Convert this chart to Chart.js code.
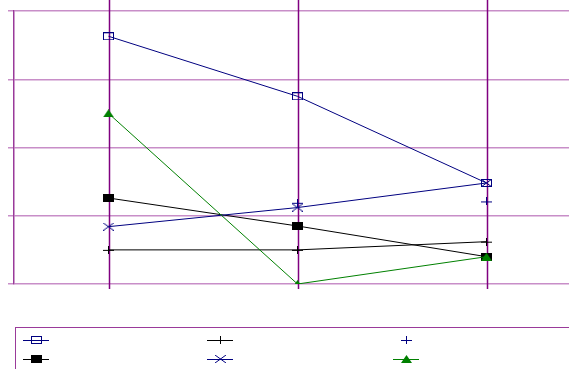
<!DOCTYPE html>
<html>
<head>
<meta charset="utf-8">
<script src="https://cdn.jsdelivr.net/npm/chart.js@4"></script>
<style>
  html, body { margin: 0; padding: 0; overflow: hidden; background: #fff; }
  #wrap { width: 569px; height: 369px; overflow: hidden; }
</style>
</head>
<body>
<div id="wrap"><canvas id="chart" width="600" height="369"></canvas></div>
<script>
// categories have no visible labels in the picture
const categories = ["", "", ""];

const openSquareBlue = [3.63, 2.75, 1.48];
const plusBlack = [0.5, 0.5, 0.62];
const plusBlue = [null, 1.19, 1.21];
const filledSquareBlack = [1.26, 0.85, 0.4];
const crossBlue = [0.84, 1.12, 1.48];
const triangleGreen = [2.5, 0, 0.4];

const yTicks = [0, 1, 2, 3, 4];

function marker(kind, color) {
  const c = document.createElement("canvas");
  c.width = 11;
  c.height = 8;
  const g = c.getContext("2d");
  g.strokeStyle = color;
  g.fillStyle = color;
  g.lineWidth = 1;
  if (kind === "openSquare") {
    g.strokeRect(0.5, 0.5, 10, 7);
  } else if (kind === "filledSquare") {
    g.fillRect(0, 0, 11, 8);
  } else if (kind === "plus") {
    g.beginPath();
    g.moveTo(0, 4.5); g.lineTo(11, 4.5);
    g.moveTo(5.5, 0); g.lineTo(5.5, 8);
    g.stroke();
  } else if (kind === "cross") {
    g.beginPath();
    g.moveTo(0, 0); g.lineTo(11, 8);
    g.moveTo(11, 0); g.lineTo(0, 8);
    g.stroke();
  } else if (kind === "triangle") {
    g.beginPath();
    g.moveTo(0, 8); g.lineTo(11, 8); g.lineTo(5.5, 0);
    g.closePath();
    g.fill();
  }
  return c;
}

const series = [
  { data: openSquareBlue, color: "#000080", kind: "openSquare", line: true },
  { data: plusBlack, color: "#000000", kind: "plus", line: true },
  { data: plusBlue, color: "#000080", kind: "plus", line: false },
  { data: filledSquareBlack, color: "#000000", kind: "filledSquare", line: true },
  { data: crossBlue, color: "#000080", kind: "cross", line: true },
  { data: triangleGreen, color: "#008000", kind: "triangle", line: true },
];

const datasets = series.map((s, i) => ({
  label: "",
  data: s.data,
  borderColor: s.color,
  backgroundColor: s.color,
  borderWidth: 1,
  showLine: s.line,
  tension: 0,
  pointStyle: marker(s.kind, s.color),
  pointRadius: 5,
  order: series.length - i,
}));

// vertical category lines reach above the plot and below it as ticks
const categoryLines = {
  id: "categoryLines",
  beforeDatasetsDraw(chart) {
    const { ctx, chartArea, scales } = chart;
    ctx.save();
    ctx.strokeStyle = "#800080";
    ctx.lineWidth = 1.5;
    categories.forEach((c, i) => {
      const x = Math.round(scales.x.getPixelForValue(i)) + 0.5;
      ctx.beginPath();
      ctx.moveTo(x, 0);
      ctx.lineTo(x, chartArea.bottom + 5);
      ctx.stroke();
    });
    ctx.restore();
  },
};

// boxed legend with three columns, no text
const boxLegend = {
  id: "boxLegend",
  afterDraw(chart) {
    const { ctx } = chart;
    ctx.save();
    ctx.strokeStyle = "#9a3a9a";
    ctx.lineWidth = 1;
    ctx.strokeRect(15.5, 327.5, 700, 100);
    const cols = [36, 220, 406];
    const rows = [340, 359];
    series.forEach((s, i) => {
      const cx = cols[i % 3];
      const cy = rows[Math.floor(i / 3)];
      if (s.line) {
        ctx.strokeStyle = s.color;
        ctx.beginPath();
        ctx.moveTo(cx - 13, cy + 0.5);
        ctx.lineTo(cx + 13, cy + 0.5);
        ctx.stroke();
      }
      const m = chart.data.datasets[i].pointStyle;
      ctx.drawImage(m, Math.round(cx - m.width / 2), Math.round(cy - m.height / 2));
    });
    ctx.restore();
  },
};

new Chart(document.getElementById("chart"), {
  type: "line",
  data: { labels: categories, datasets },
  options: {
    responsive: false,
    animation: false,
    events: [],
    layout: { padding: { left: 8, top: 11, right: 19, bottom: 85 } },
    plugins: { legend: { display: false }, tooltip: { enabled: false } },
    scales: {
      x: {
        offset: true,
        grid: { display: false },
        ticks: { display: false },
        border: { display: false },
        afterFit(scale) {
          scale.height = 0;
        },
      },
      y: {
        min: yTicks[0],
        max: yTicks[yTicks.length - 1],
        afterBuildTicks(scale) {
          scale.ticks = yTicks.map((v) => ({ value: v }));
        },
        afterFit(scale) {
          scale.width = 6;
        },
        ticks: { display: false },
        grid: { color: "#c88ec8", lineWidth: 1.5, tickLength: 6 },
        border: { color: "#9a3a9a", width: 1.5 },
      },
    },
  },
  plugins: [categoryLines, boxLegend],
});
</script>
</body>
</html>
